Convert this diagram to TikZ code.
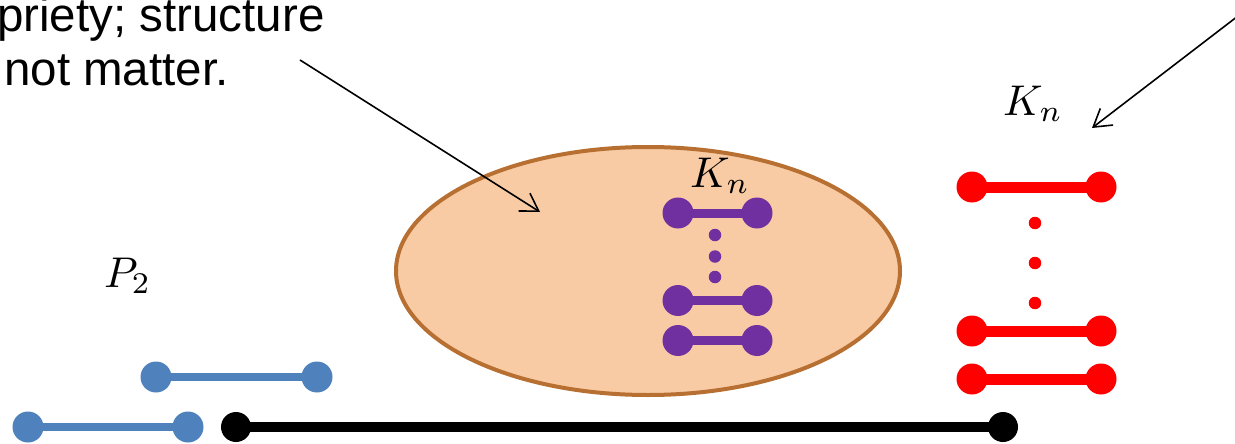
\documentclass[tikz,border=0pt]{standalone}
\usepackage{fontspec}
\setsansfont{Liberation Sans}
\usepackage{graphicx}
\usetikzlibrary{arrows.meta,shapes.geometric}
\definecolor{kblue}{RGB}{79,129,189}
\definecolor{kpurple}{RGB}{112,48,160}
\definecolor{kred}{RGB}{255,0,0}
\definecolor{kfill}{RGB}{248,203,165}
\definecolor{kborder}{RGB}{183,112,50}
\newcommand{\bigmath}[1]{\scalebox{4.3}{$#1$}}
\begin{document}
\begin{tikzpicture}[x=1pt,y=-1pt,
  vtx/.style={circle,fill,inner sep=0pt,minimum size=31pt},
  smalldot/.style={circle,fill,inner sep=0pt,minimum size=12.5pt},
  lbl/.style={inner sep=0pt,anchor=base west},
  txt/.style={inner sep=0pt,anchor=base west,font=\sffamily\fontsize{47.5}{53}\selectfont},
  arr/.style={line width=1.6pt,-{Straight Barb[length=17pt,width=21pt,line width=1.6pt]}},
  blob/.style={ellipse,draw=kborder,fill=kfill,line width=4pt,minimum width=504pt,minimum height=248pt,inner sep=0pt}
]
\clip (0,0) rectangle (1235,444);
\useasboundingbox (0,0) rectangle (1235,444);

% texts
\node[txt] (t1) at (-3,32) {priety; structure};
\node[txt] (t2) at (4,85) {not matter.};
\node[lbl] (ktop) at (1105,-9) {\bigmath{K_n}};

% ellipse
\node[blob] (blob) at (648,271) {};

% labels
\node[lbl] (kred) at (1003,115) {\bigmath{K_n}};
\node[lbl] (kpur) at (690,187) {\bigmath{K_n}};
\node[lbl] (ptwo) at (104,287) {\bigmath{P_2}};

% arrows
\coordinate (a1s) at (300,60);
\coordinate (a1e) at (540,212);
\coordinate (a2s) at (1238,16);
\coordinate (a2e) at (1092,128);
\draw[arr] (a1s) -- (a1e);
\draw[arr] (a2s) -- (a2e);

% purple K_n
\begin{scope}[kpurple]
\node[vtx] (p1a) at (678,213) {};
\node[vtx] (p1b) at (757,213) {};
\node[vtx] (p2a) at (678,300.5) {};
\node[vtx] (p2b) at (757,300.5) {};
\node[vtx] (p3a) at (678,340.5) {};
\node[vtx] (p3b) at (757,340.5) {};
\node[smalldot] (pd1) at (715,235) {};
\node[smalldot] (pd2) at (715,256.5) {};
\node[smalldot] (pd3) at (715,277) {};
\draw[kpurple,line width=9pt] (p1a.center) -- (p1b.center);
\draw[kpurple,line width=9pt] (p2a.center) -- (p2b.center);
\draw[kpurple,line width=9pt] (p3a.center) -- (p3b.center);
\end{scope}

% red K_n
\begin{scope}[kred]
\node[vtx] (r1a) at (972,187) {};
\node[vtx] (r1b) at (1101,187) {};
\node[vtx] (r2a) at (972,331) {};
\node[vtx] (r2b) at (1101,331) {};
\node[vtx] (r3a) at (972,379) {};
\node[vtx] (r3b) at (1101,379) {};
\node[smalldot] (rd1) at (1035,223) {};
\node[smalldot] (rd2) at (1035,263) {};
\node[smalldot] (rd3) at (1035,303) {};
\draw[kred,line width=11pt] (r1a.center) -- (r1b.center);
\draw[kred,line width=11pt] (r2a.center) -- (r2b.center);
\draw[kred,line width=11pt] (r3a.center) -- (r3b.center);
\end{scope}

% blue P_2
\begin{scope}[kblue]
\node[vtx] (b1a) at (156,377) {};
\node[vtx] (b1b) at (317,377) {};
\node[vtx] (b2a) at (28,427) {};
\node[vtx] (b2b) at (188,427) {};
\draw[kblue,line width=8pt] (b1a.center) -- (b1b.center);
\draw[kblue,line width=8pt] (b2a.center) -- (b2b.center);
\end{scope}

% black path
\node[vtx,black,minimum size=30pt] (k1) at (236,427) {};
\node[vtx,black,minimum size=30pt] (k2) at (1003,427) {};
\draw[black,line width=10pt] (k1.center) -- (k2.center);
\end{tikzpicture}
\end{document}
